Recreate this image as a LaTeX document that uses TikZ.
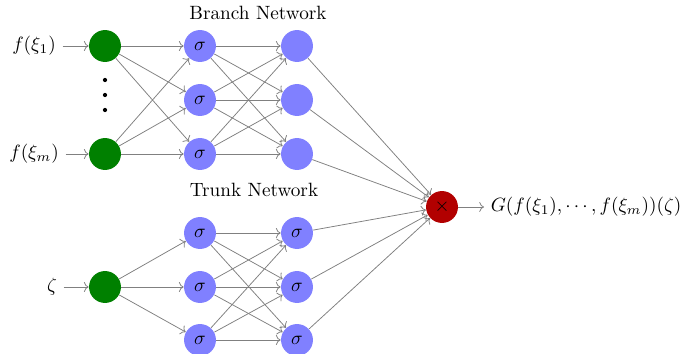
\documentclass[tikz,border=0pt]{standalone}
\usetikzlibrary{arrows.meta}
\begin{document}
\begin{tikzpicture}[x=0.52pt,y=-0.52pt,
  neuron/.style={circle,minimum size=16.6pt,inner sep=0pt},
  inp/.style={neuron,fill=green!50!black},
  hid/.style={neuron,fill=blue!50},
  prod/.style={neuron,fill=red!70!black},
  conn/.style={draw=gray,->,line width=0.4pt},
  dotnode/.style={circle,fill=black,minimum size=2.2pt,inner sep=0pt}]
\useasboundingbox (0,0) rectangle (680,354);
% titles
\node (bt) at (258,13) {Branch Network};
\node (tt) at (254,190) {Trunk Network};
% branch inputs
\node (l1) at (34,46) {$f(\xi_1)$};
\node (lm) at (34,154) {$f(\xi_m)$};
\node[inp] (g1) at (105,46) {};
\node[inp] (gm) at (105,154) {};
\node[dotnode] (d1) at (105,80) {};
\node[dotnode] (d2) at (105,95) {};
\node[dotnode] (d3) at (105,110) {};
% branch hidden
\foreach \i/\y in {1/46,2/100,3/154}{
  \node[hid] (ba\i) at (200,\y) {$\sigma$};
  \node[hid] (bb\i) at (297,\y) {};
}
% trunk
\node (lz) at (52,287) {$\zeta$};
\node[inp] (gz) at (105,287) {};
\foreach \i/\y in {1/233,2/287,3/340}{
  \node[hid] (ta\i) at (200,\y) {$\sigma$};
  \node[hid] (tb\i) at (297,\y) {$\sigma$};
}
% product
\node[prod] (p) at (442,207) {$\times$};
\node[anchor=west] (out) at (484,207) {$G(f(\xi_1),\cdots,f(\xi_m))(\zeta)$};
% connectors
\draw[conn] (l1) -- (g1);
\draw[conn] (lm) -- (gm);
\draw[conn] (lz) -- (gz);
\foreach \i in {1,2,3}{
  \draw[conn] (g1) -- (ba\i);
  \draw[conn] (gm) -- (ba\i);
  \draw[conn] (gz) -- (ta\i);
  \draw[conn] (bb\i) -- (p);
  \draw[conn] (tb\i) -- (p);
  \foreach \j in {1,2,3}{
    \draw[conn] (ba\i) -- (bb\j);
    \draw[conn] (ta\i) -- (tb\j);
  }
}
\draw[conn] (p) -- (out);
\end{tikzpicture}
\end{document}
